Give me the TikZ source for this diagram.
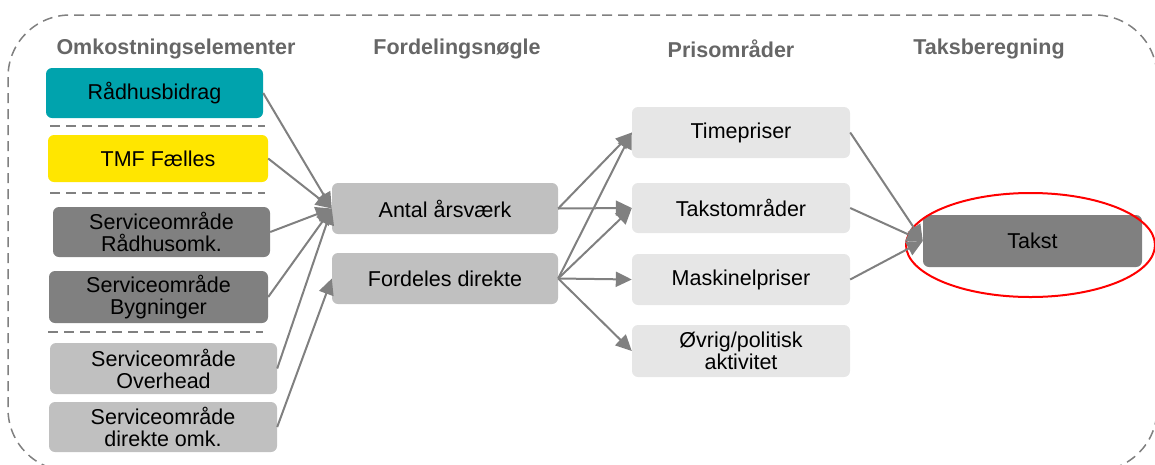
\documentclass[tikz,border=0pt]{standalone}
\usepackage{fontspec}
\setmainfont{Liberation Sans}
\usepackage{xcolor}
\usepackage{tikz}
\usetikzlibrary{shapes.geometric, arrows.meta, positioning, calc}
\definecolor{tealbox}{HTML}{00A3AD}
\definecolor{yellowbox}{HTML}{FFE600}
\definecolor{darkbox}{HTML}{808080}
\definecolor{midbox}{HTML}{C0C0C0}
\definecolor{lightbox}{HTML}{E6E6E6}
\definecolor{linegray}{HTML}{808080}
\definecolor{headgray}{HTML}{666666}
\tikzstyle{box} = [rectangle, fill=midbox, text centered, align=center, rounded corners=6pt, inner sep=0pt, font=\fontsize{21.5}{22}\selectfont]
\tikzstyle{head} = [font=\fontsize{21.5}{22}\selectfont\bfseries, text=headgray]
\tikzstyle{arrow} = [line width=2pt, draw=linegray, -{Triangle[length=16pt,width=15pt]}, fill=linegray]
\tikzstyle{sep} = [line width=1.5pt, draw=linegray, dash pattern=on 10pt off 6pt]

\begin{document}
\begin{tikzpicture}[x=1pt, y=-1pt]
\useasboundingbox (0,0) rectangle (1155,464);
\clip (0,0) rectangle (1155,464);

% frame
\draw[sep, rounded corners=62pt] (8,15) rectangle (1157,471);

% column headings
\node[head] (h1) at (176,49) {Omkostningselementer};
\node[head] (h2) at (457,49) {Fordelingsnøgle};
\node[head] (h3) at (731,49) {Prisområder};
\node[head] (h4) at (989,49) {Taksberegning};

% cost elements
\node[box, fill=tealbox, minimum width=217pt, minimum height=50pt] (raad) at (154.5,93) {Rådhusbidrag};
\node[box, fill=yellowbox, minimum width=220pt, minimum height=47pt] (tmf) at (158,158.5) {TMF Fælles};
\node[box, fill=darkbox, minimum width=217pt, minimum height=50pt] (rhomk) at (161.5,232) {Serviceområde\\Rådhusomk.};
\node[box, fill=darkbox, minimum width=219pt, minimum height=52pt] (byg) at (158.5,297) {Serviceområde\\Bygninger};
\node[box, minimum width=227pt, minimum height=51pt] (ovh) at (163.5,368.5) {Serviceområde\\Overhead};
\node[box, minimum width=228pt, minimum height=50pt] (dir) at (163,427) {Serviceområde\\direkte omk.};

\coordinate (s1a) at (50,126);  \coordinate (s1b) at (265,126);
\coordinate (s2a) at (50,193);  \coordinate (s2b) at (265,193);
\coordinate (s3a) at (48,332);  \coordinate (s3b) at (263,332);
\draw[sep] (s1a) -- (s1b);
\draw[sep] (s2a) -- (s2b);
\draw[sep] (s3a) -- (s3b);

% keys
\node[box, minimum width=226pt, minimum height=51pt] (aars) at (445,208.5) {Antal årsværk};
\node[box, minimum width=226pt, minimum height=51pt] (ford) at (445,278.5) {Fordeles direkte};

% price areas
\node[box, fill=lightbox, minimum width=218pt, minimum height=51pt] (time) at (741,132.5) {Timepriser};
\node[box, fill=lightbox, minimum width=218pt, minimum height=50pt] (takomr) at (741,208) {Takstområder};
\node[box, fill=lightbox, minimum width=218pt, minimum height=51pt] (mask) at (741,279.5) {Maskinelpriser};
\node[box, fill=lightbox, minimum width=218pt, minimum height=52pt] (ovrig) at (741,351) {Øvrig/politisk\\aktivitet};

% rate
\node[box, fill=darkbox, minimum width=219pt, minimum height=52pt] (takst) at (1032.5,241) {Takst};
\node[ellipse, draw=red, line width=2pt, minimum width=249pt, minimum height=104pt, inner sep=0pt] (ring) at (1030.5,245) {};

\draw[arrow] (raad.east) -- (aars.west);
\draw[arrow] (tmf.east) -- (aars.west);
\draw[arrow] (rhomk.east) -- (aars.west);
\draw[arrow] (byg.east) -- (aars.west);
\draw[arrow] (ovh.east) -- (aars.west);
\draw[arrow] (dir.east) -- (ford.west);

\draw[arrow] (aars.east) -- (time.west);
\draw[arrow] (aars.east) -- (takomr.west);
\draw[arrow] (ford.east) -- (time.west);
\draw[arrow] (ford.east) -- (takomr.west);
\draw[arrow] (ford.east) -- (mask.west);
\draw[arrow] (ford.east) -- (ovrig.west);

\draw[arrow] (time.east) -- (takst.west);
\draw[arrow] (takomr.east) -- (takst.west);
\draw[arrow] (mask.east) -- (takst.west);
\end{tikzpicture}
\end{document}
